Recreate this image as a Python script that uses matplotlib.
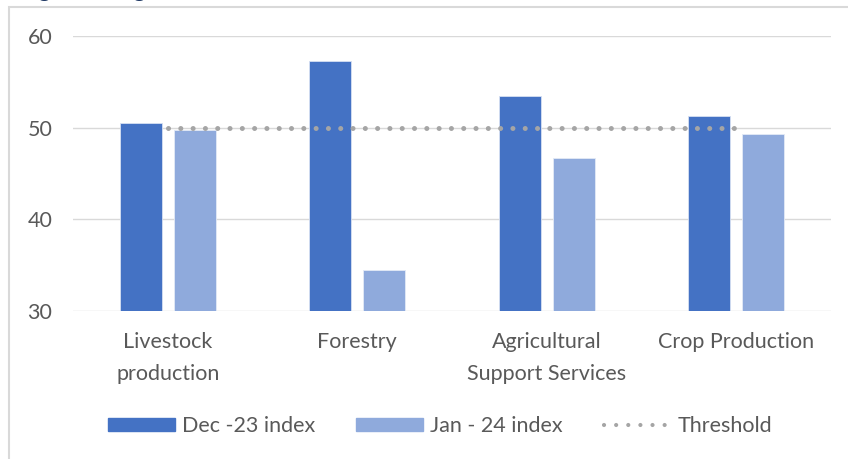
import matplotlib.pyplot as plt
from matplotlib.lines import Line2D
from matplotlib.patches import Patch, Rectangle
import numpy as np

categories = ["Livestock\nproduction", "Forestry", "Agricultural\nSupport Services", "Crop Production"]
dec_23 = [50.5, 57.3, 53.4, 51.3]
jan_24 = [49.7, 34.5, 46.7, 49.3]
threshold = [50, 50, 50, 50]

plt.rcParams['font.family'] = ['Lato', 'DejaVu Sans']

dark = '#4472C4'
light = '#8FAADC'
grey = '#A5A5A5'
text_col = '#595959'
fs = 15.5

fig = plt.figure(figsize=(8.48, 4.59), dpi=100)
ax = fig.add_axes([0.0861, 0.3224, 0.8939, 0.5992])

x = np.arange(len(categories))
w = 0.222
ax.bar(x - 0.142, dec_23, w, color=dark, edgecolor='#D6E0F2', linewidth=0.6, zorder=2)
ax.bar(x + 0.142, jan_24, w, color=light, edgecolor='#E3EAF6', linewidth=0.6, zorder=2)
ax.plot(x, threshold, color=grey, lw=3.6, linestyle=(0, (0.01, 2.45)),
        dash_capstyle='round', zorder=3)

ax.set_xlim(-0.5, 3.5)
ax.set_ylim(30, 60)
ax.set_yticks([30, 40, 50, 60])
ax.grid(axis='y', color='#D9D9D9', lw=1.0, zorder=0)
for s in ax.spines.values():
    s.set_visible(False)
ax.tick_params(axis='both', length=0, labelsize=fs, labelcolor=text_col)
ax.tick_params(axis='y', pad=15)
ax.tick_params(axis='x', pad=15)
ax.set_xticks(x)
ax.set_xticklabels(categories, linespacing=1.75)

handles = [Patch(color=dark), Patch(color=light),
           Line2D([], [], color=grey, lw=3.0, linestyle=(0, (0.01, 2.9)), dash_capstyle='round')]
fig.legend(handles, ['Dec -23 index', 'Jan - 24 index', 'Threshold'], loc='center',
           bbox_to_anchor=(0.519, 0.072), ncol=3, frameon=False, fontsize=fs,
           labelcolor=text_col, handlelength=3.1, handleheight=0.6,
           handletextpad=0.33, columnspacing=1.9)

# outer frame of the chart area
fig.add_artist(Rectangle((9 / 848, -0.1), 1.2, 1.1 - 7 / 459, transform=fig.transFigure,
                         fill=False, edgecolor='#D9D9D9', lw=1.5))

# heading sits above the frame and is mostly cut off at the top edge
fig.text(19 / 848, 1 + 3 / 459, 'Figure 4: Agricultural Sector Scores', fontsize=17,
         fontweight='bold', color='#1F3864', va='baseline', ha='left')

fig.savefig('out.png', dpi=100)
